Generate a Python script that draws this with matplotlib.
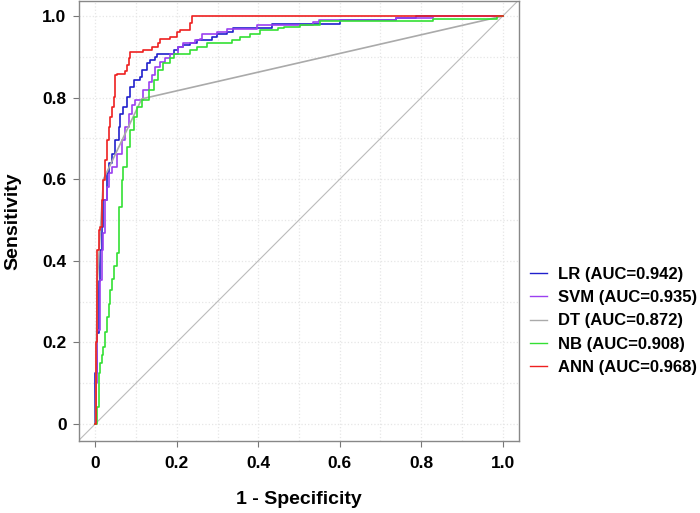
import matplotlib
matplotlib.use("Agg")
import matplotlib.pyplot as plt
from matplotlib.ticker import MultipleLocator

plt.rcParams['font.family'] = ['Liberation Sans', 'DejaVu Sans']

labels = ["LR (AUC=0.942)", "SVM (AUC=0.935)", "DT (AUC=0.872)", "NB (AUC=0.908)", "ANN (AUC=0.968)"]
colors = ["#2020CC", "#9B40F0", "#AAAAAA", "#33E033", "#EE2020"]

lr_fpr = [0, 0, 0.004, 0.008, 0.012, 0.016, 0.020, 0.029, 0.033, 0.041, 0.049, 0.057, 0.061, 0.069, 0.078,
          0.086, 0.094, 0.109, 0.114, 0.127, 0.135, 0.147, 0.151, 0.184, 0.192, 0.204, 0.216, 0.233, 0.249,
          0.286, 0.298, 0.323, 0.339, 0.433, 0.600, 0.739, 0.788, 1.0]
lr_tpr = [0, 0.125, 0.223, 0.350, 0.426, 0.484, 0.549, 0.614, 0.639, 0.663, 0.696, 0.729, 0.761, 0.778, 0.802,
          0.827, 0.843, 0.851, 0.868, 0.884, 0.892, 0.900, 0.908, 0.908, 0.917, 0.925, 0.929, 0.933, 0.941,
          0.949, 0.957, 0.962, 0.970, 0.980, 0.990, 0.995, 1.0, 1.0]

svm_fpr = [0, 0.002, 0.004, 0.012, 0.016, 0.020, 0.025, 0.029, 0.033, 0.041, 0.053, 0.065, 0.074, 0.082, 0.090,
           0.098, 0.118, 0.131, 0.139, 0.147, 0.159, 0.172, 0.184, 0.204, 0.216, 0.245, 0.257, 0.261, 0.298,
           0.323, 0.396, 0.535, 0.550, 0.739, 0.830, 1.0]
svm_tpr = [0, 0.100, 0.230, 0.353, 0.426, 0.467, 0.549, 0.582, 0.614, 0.631, 0.663, 0.696, 0.729, 0.761, 0.782,
           0.794, 0.819, 0.839, 0.855, 0.876, 0.888, 0.896, 0.908, 0.925, 0.933, 0.941, 0.945, 0.957, 0.962,
           0.968, 0.978, 0.985, 0.990, 0.995, 1.0, 1.0]

dt_fpr = [0, 0.005, 0.020, 0.114, 1.0]
dt_tpr = [0, 0.350, 0.600, 0.797, 1.0]

nb_fpr = [0, 0.004, 0.008, 0.012, 0.016, 0.020, 0.025, 0.029, 0.033, 0.037, 0.041, 0.045, 0.053, 0.057, 0.057,
          0.065, 0.069, 0.078, 0.086, 0.094, 0.102, 0.114, 0.131, 0.143, 0.155, 0.167, 0.184, 0.192, 0.233,
          0.249, 0.274, 0.335, 0.355, 0.380, 0.404, 0.449, 0.462, 0.502, 0.551, 0.829, 0.985, 1.0]
nb_tpr = [0, 0.042, 0.124, 0.149, 0.170, 0.189, 0.225, 0.263, 0.295, 0.328, 0.355, 0.386, 0.418, 0.475, 0.533,
          0.598, 0.631, 0.680, 0.721, 0.753, 0.778, 0.794, 0.819, 0.843, 0.868, 0.884, 0.896, 0.908, 0.917,
          0.925, 0.933, 0.941, 0.949, 0.957, 0.966, 0.970, 0.974, 0.978, 0.988, 0.993, 1.0, 1.0]

ann_fpr = [0, 0.002, 0.004, 0.008, 0.012, 0.016, 0.020, 0.025, 0.029, 0.033, 0.037, 0.041, 0.045, 0.049, 0.053,
           0.074, 0.078, 0.082, 0.086, 0.110, 0.118, 0.139, 0.154, 0.159, 0.184, 0.200, 0.208, 0.233, 0.237, 1.0]
ann_tpr = [0, 0.200, 0.426, 0.475, 0.484, 0.549, 0.598, 0.647, 0.696, 0.729, 0.753, 0.778, 0.802, 0.855, 0.859,
           0.866, 0.880, 0.896, 0.911, 0.911, 0.917, 0.923, 0.935, 0.943, 0.949, 0.960, 0.966, 0.984, 1.0, 1.0]

ticks = [0, 0.2, 0.4, 0.6, 0.8, 1.0]
tick_labels = ["0", "0.2", "0.4", "0.6", "0.8", "1.0"]

fig = plt.figure(figsize=(7.0, 5.13), dpi=100)
ax = fig.add_axes([79/700, 1 - 441/513, 440/700, 440/513])

ax.set_xlim(-0.04, 1.04)
ax.set_ylim(-0.042, 1.037)

ax.xaxis.set_minor_locator(MultipleLocator(0.1))
ax.yaxis.set_minor_locator(MultipleLocator(0.1))
ax.grid(True, which='both', color='#E6E6E6', linestyle=':', linewidth=0.9)
ax.set_axisbelow(True)

ax.plot([-0.04, 1.04], [-0.04, 1.04], color='#BBBBBB', lw=0.8, zorder=1)

series = [(lr_fpr, lr_tpr), (svm_fpr, svm_tpr), (dt_fpr, dt_tpr), (nb_fpr, nb_tpr), (ann_fpr, ann_tpr)]
handles = []
for i, ((fx, ty), lab, col) in enumerate(zip(series, labels, colors)):
    ds = 'default' if i == 2 else 'steps-post'
    h, = ax.plot(fx, ty, color=col, lw=1.2, drawstyle=ds, label=lab, zorder=2 + i)
    handles.append(h)

ax.set_xticks(ticks)
ax.set_xticklabels(tick_labels)
ax.set_yticks(ticks)
ax.set_yticklabels(tick_labels)
ax.tick_params(which='minor', length=0)
ax.tick_params(which='major', length=4, width=0.8, color='#777777', pad=5)
ax.tick_params(axis='x', pad=7)
for lab in ax.get_xticklabels() + ax.get_yticklabels():
    lab.set_fontsize(12.5)
    lab.set_fontweight('bold')
for s in ax.spines.values():
    s.set_color('#888888')
    s.set_linewidth(1.0)

fig.text(299/700, 1 - 500/513, "1 - Specificity", ha='center', va='center', fontsize=14, fontweight='bold')
fig.text(13/700, 1 - 221/513, "Sensitivity", ha='center', va='center', rotation=90, fontsize=14, fontweight='bold')

leg = fig.legend(handles=handles, labels=labels, loc='center left', bbox_to_anchor=(530/700, 1 - 321/513),
                 frameon=False, prop={'size': 12, 'weight': 'bold'}, handlelength=1.0, handletextpad=0.7,
                 labelspacing=0.5, borderpad=0, borderaxespad=0)
for l in leg.get_lines():
    l.set_linewidth(1.0)

fig.savefig("out.png", dpi=100)
